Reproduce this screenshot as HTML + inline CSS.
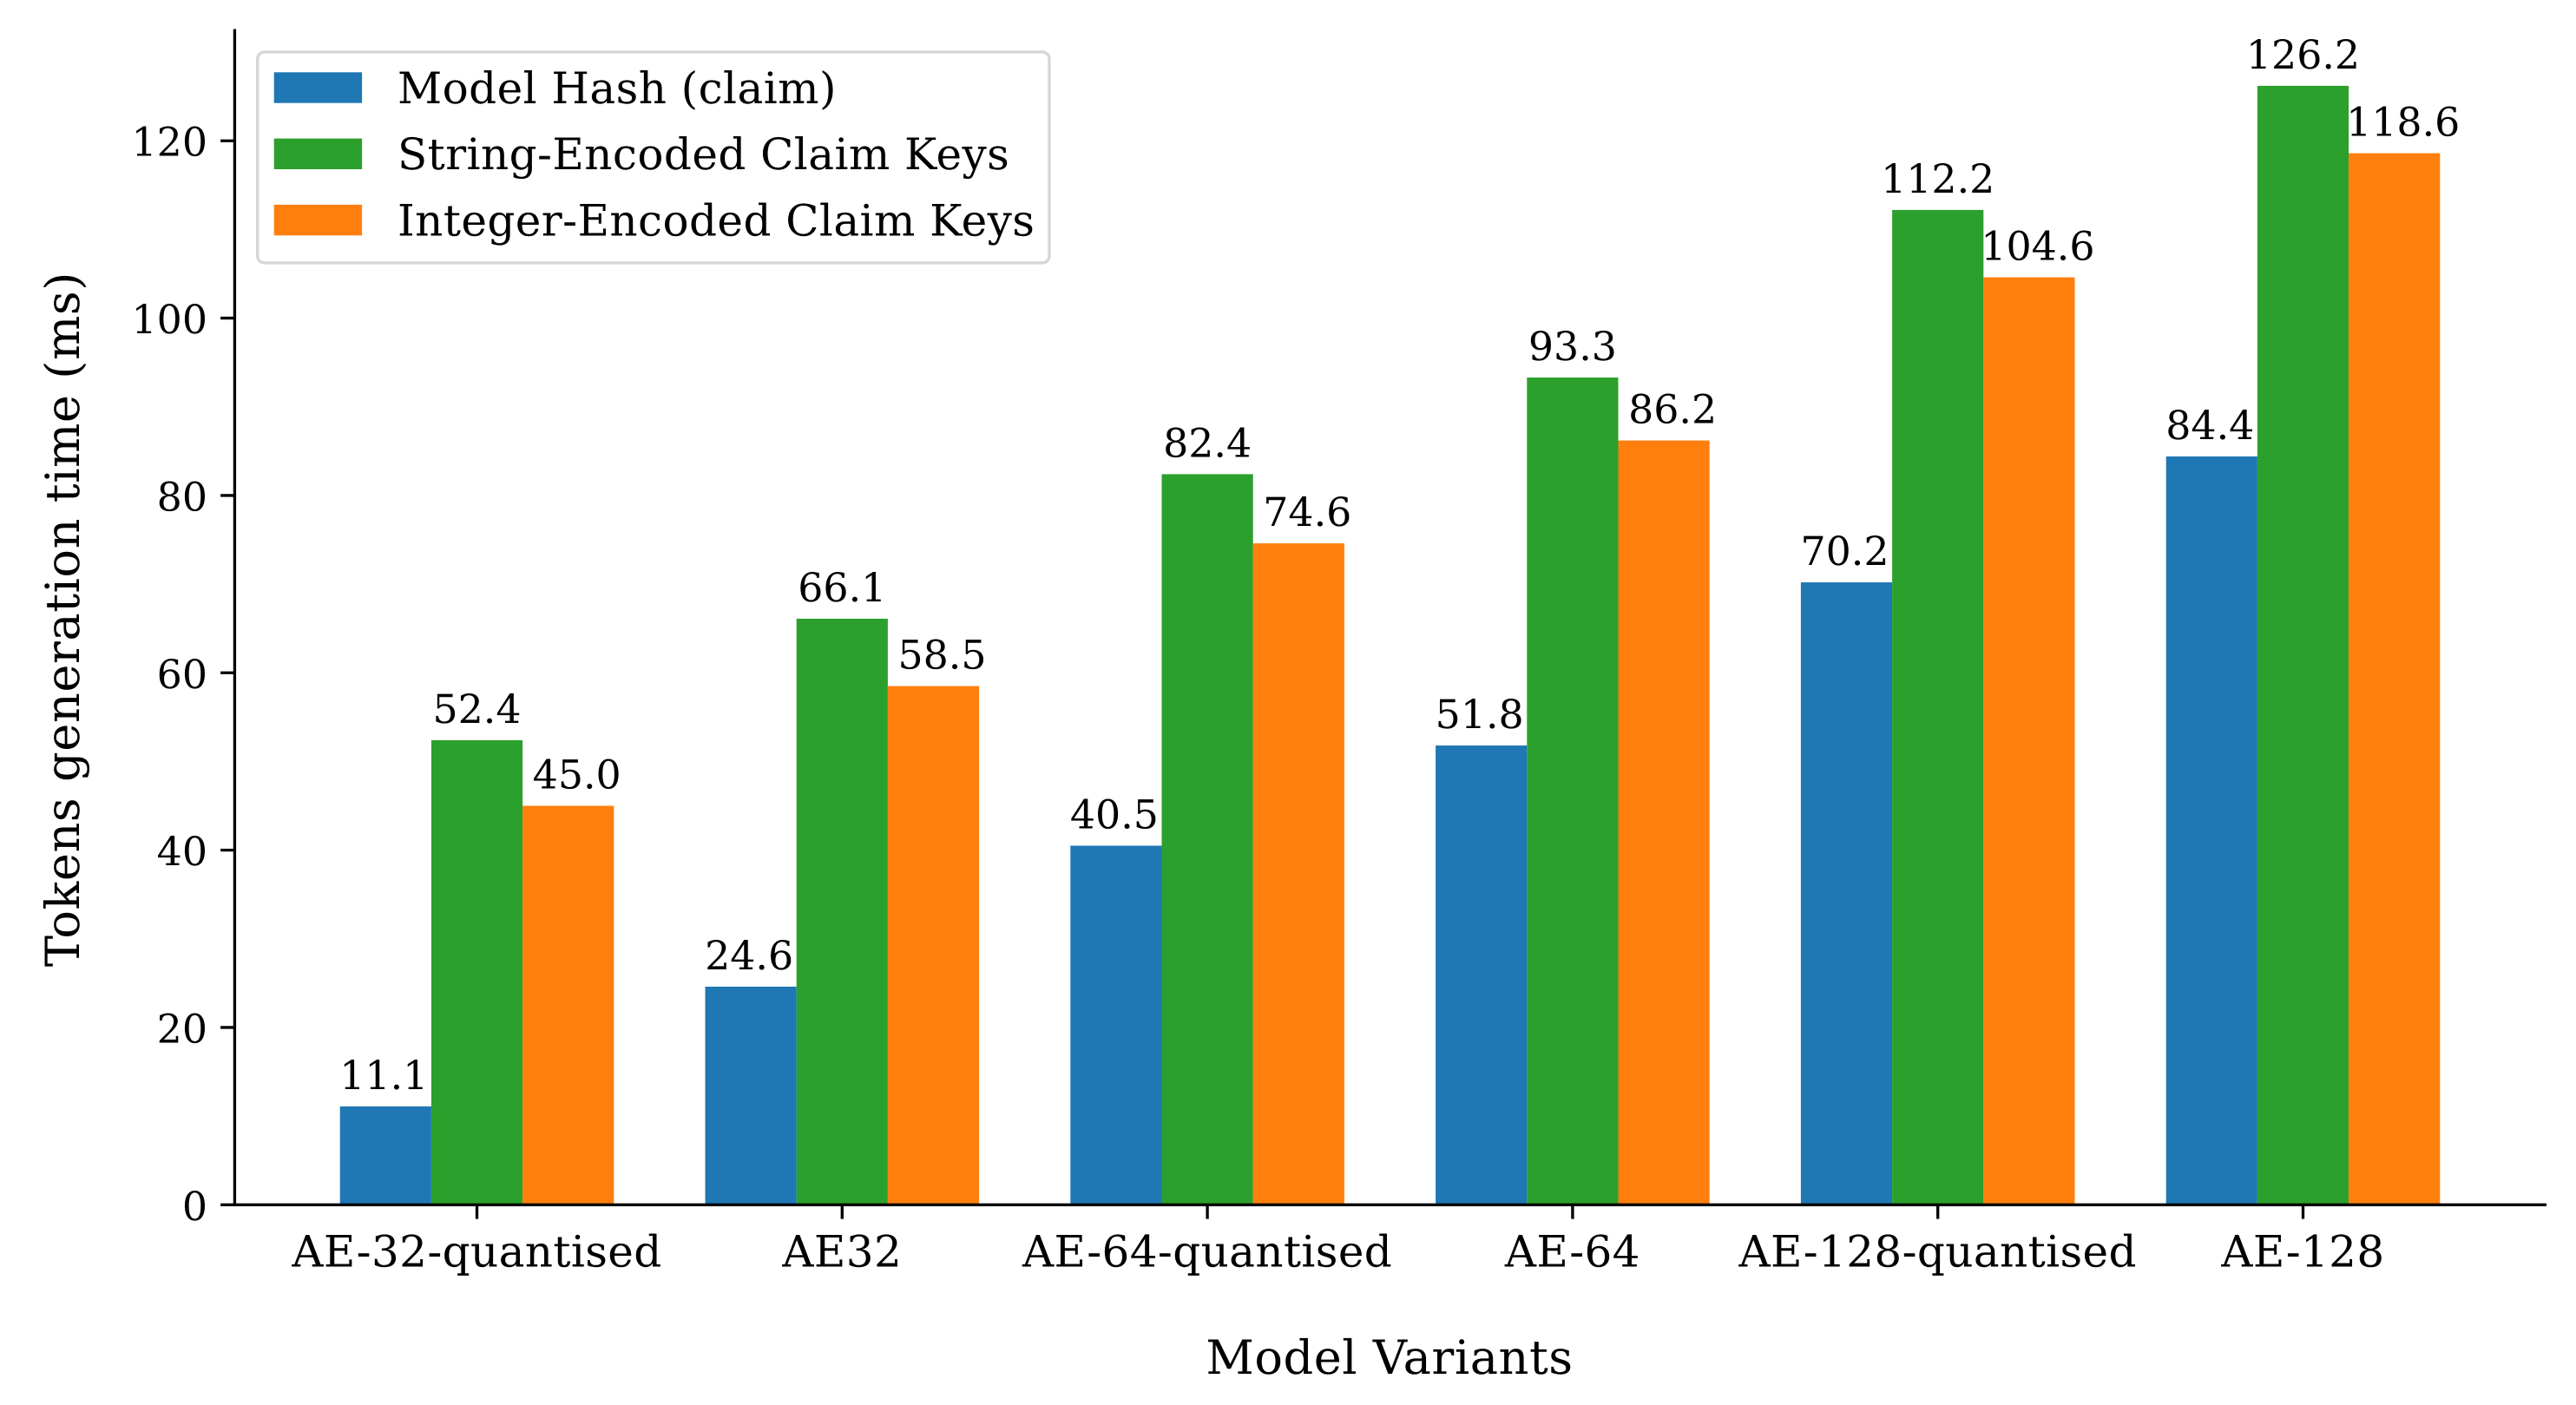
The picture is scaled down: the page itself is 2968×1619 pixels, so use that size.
<!DOCTYPE html>
<html lang="en">
<head>
<meta charset="utf-8">
<title>Tokens generation time by model variant</title>
<style>
  html, body { margin: 0; padding: 0; background: #ffffff; }
  svg { display: block; }
  text { font-family: "DejaVu Serif", "Liberation Serif", serif; fill: #000000; text-rendering: geometricPrecision; }
</style>
</head>
<body>
<svg id="chart" xmlns="http://www.w3.org/2000/svg" width="2968" height="1619" viewBox="0 0 2968 1619">
  <rect x="0" y="0" width="2968" height="1619" fill="#ffffff"/>
  <g id="bars"></g>
  <g id="value-labels"></g>
  <g id="y-axis"></g>
  <g id="x-axis"></g>
  <text transform="translate(91 713.6) rotate(-90)" text-anchor="middle" font-size="54.17" letter-spacing="0.56">Tokens generation time (ms)</text>
  <text x="1601" y="1583" text-anchor="middle" font-size="54.17" letter-spacing="0.54">Model Variants</text>
  <g id="legend">
    <rect x="296.7" y="59.9" width="912.3" height="243" rx="8" ry="8" fill="#ffffff" fill-opacity="0.8" stroke="#d6d6d6" stroke-width="3.4"/>
  </g>
</svg>
<script>
const categories = ["AE-32-quantised", "AE32", "AE-64-quantised", "AE-64", "AE-128-quantised", "AE-128"];
const seriesNames = ["Model Hash (claim)", "String-Encoded Claim Keys", "Integer-Encoded Claim Keys"];
const modelHashValues = [11.1, 24.6, 40.5, 51.8, 70.2, 84.4];
const stringKeyValues = [52.4, 66.1, 82.4, 93.3, 112.2, 126.2];
const integerKeyValues = [45.0, 58.5, 74.6, 86.2, 104.6, 118.6];
const yTickLabels = [0, 20, 40, 60, 80, 100, 120];

const SVG_NS = "http://www.w3.org/2000/svg";
const allSeries = [modelHashValues, stringKeyValues, integerKeyValues];
const seriesColors = ["#1f77b4", "#2ca02c", "#ff7f0e"];
const seriesKeys = ["model-hash", "string-keys", "integer-keys"];
const labelShift = [-2, 0, 10];

const plotLeft = 270.4;
const plotRight = 2934;
const plotTop = 33.5;
const plotBottom = 1388.3;
const firstCategoryX = 549.5;
const categoryStep = 420.8;
const yMax = 132.6;
const barWidthUnits = 0.25;

function xScale(v) {
  return firstCategoryX + v * categoryStep;
}
function yScale(v) {
  return plotBottom - v / yMax * (plotBottom - plotTop);
}
function make(tag, attrs) {
  const el = document.createElementNS(SVG_NS, tag);
  for (const k in attrs) el.setAttribute(k, attrs[k]);
  return el;
}

const barsGroup = document.getElementById("bars");
const labelsGroup = document.getElementById("value-labels");
const yAxisGroup = document.getElementById("y-axis");
const xAxisGroup = document.getElementById("x-axis");
const legendGroup = document.getElementById("legend");

allSeries.forEach(function (values, s) {
  values.forEach(function (value, i) {
    const left = xScale(i + (s - 1.5) * barWidthUnits);
    const right = xScale(i + (s - 0.5) * barWidthUnits);
    const top = yScale(value);
    const bar = make("rect", { x: left, y: top, width: right - left, height: plotBottom - top, fill: seriesColors[s] });
    
    
    barsGroup.appendChild(bar);

    const label = make("text", { x: (left + right) / 2 + labelShift[s], y: top - 20, "text-anchor": "middle", "font-size": 45.83 });
    
    
    label.textContent = value.toFixed(1);
    labelsGroup.appendChild(label);
  });
});

yTickLabels.forEach(function (tick) {
  const y = yScale(tick);
  const mark = make("line", { x1: plotLeft - 16.3, x2: plotLeft, y1: y, y2: y, stroke: "#000000", "stroke-width": 3.33 });
  
  
  yAxisGroup.appendChild(mark);

  const text = make("text", { x: 239, y: y + 17.5, "text-anchor": "end", "font-size": 45.83 });
  
  
  text.textContent = tick;
  yAxisGroup.appendChild(text);
});

const ySpine = make("line", { x1: plotLeft, x2: plotLeft, y1: plotTop, y2: plotBottom + 1.67, stroke: "#000000", "stroke-width": 3.33 });


yAxisGroup.appendChild(ySpine);

categories.forEach(function (name, i) {
  const x = xScale(i);
  const mark = make("line", { x1: x, x2: x, y1: plotBottom, y2: plotBottom + 16.3, stroke: "#000000", "stroke-width": 3.33 });
  
  
  xAxisGroup.appendChild(mark);

  const text = make("text", { x: x, y: 1459.3, "text-anchor": "middle", "font-size": 50, "letter-spacing": 0.38 });
  
  
  text.textContent = name;
  xAxisGroup.appendChild(text);
});

const xSpine = make("line", { x1: plotLeft - 1.67, x2: plotRight, y1: plotBottom, y2: plotBottom, stroke: "#000000", "stroke-width": 3.33 });


xAxisGroup.appendChild(xSpine);

seriesNames.forEach(function (name, s) {
  const rowTop = 83.3 + s * 76.3;
  const swatch = make("rect", { x: 315.7, y: rowTop, width: 101.4, height: 35.4, fill: seriesColors[s] });
  
  
  legendGroup.appendChild(swatch);

  const text = make("text", { x: 458, y: rowTop + 35.6, "font-size": 50, "letter-spacing": 0.43 });
  
  
  text.textContent = name;
  legendGroup.appendChild(text);
});
</script>
</body>
</html>
